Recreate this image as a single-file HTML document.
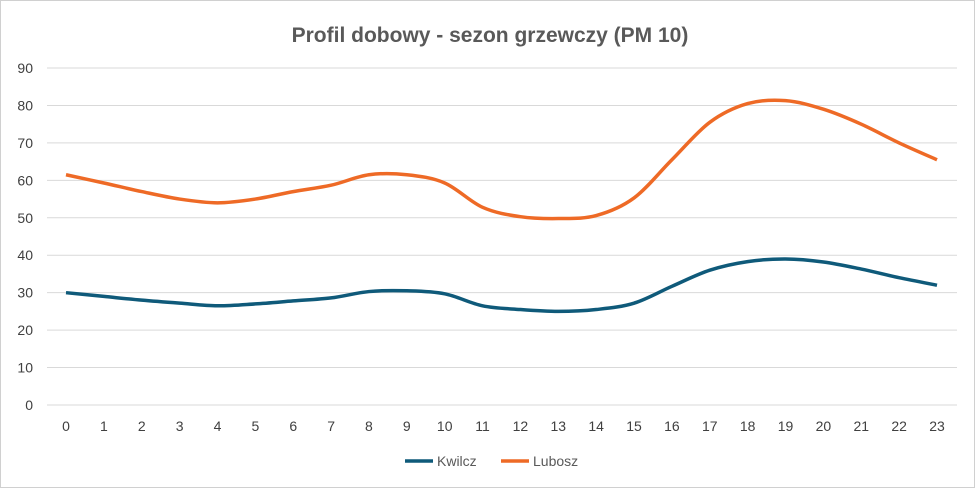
<!DOCTYPE html>
<html><head><meta charset="utf-8"><style>
html,body{margin:0;padding:0;background:#fff;}
body{width:980px;height:493px;overflow:hidden;font-family:"Liberation Sans",sans-serif;}
</style></head><body>
<svg id="c" width="980" height="493" xmlns="http://www.w3.org/2000/svg">
<rect x="0.5" y="0.5" width="974" height="487" fill="#fff" stroke="#d0d0d0"/>
<text x="490" y="42" text-anchor="middle" font-family="Liberation Sans, sans-serif" font-size="21" font-weight="bold" fill="#595959">Profil dobowy - sezon grzewczy (PM 10)</text>
<g id="grid"></g><g id="lab" font-family="Liberation Sans, sans-serif" font-size="14" fill="#404040"></g>
<g id="ser"></g>
<line x1="405" y1="461" x2="433" y2="461" stroke="#0f5a7a" stroke-width="3.5"/>
<text x="437" y="466" font-family="Liberation Sans, sans-serif" font-size="14" fill="#595959">Kwilcz</text>
<line x1="501" y1="461" x2="529" y2="461" stroke="#ee6a26" stroke-width="3.5"/>
<text x="533" y="466" font-family="Liberation Sans, sans-serif" font-size="14" fill="#595959">Lubosz</text>
</svg>
<script>
const ns="http://www.w3.org/2000/svg";
const Y=v=>405-3.744*v, X=i=>66+i*37.87;
let g="",l="";
for(let v=0;v<=90;v+=10){g+=`<line x1="47" x2="957" y1="${Y(v)}" y2="${Y(v)}" stroke="#d9d9d9" stroke-width="1"/>`;l+=`<text x="33" y="${Y(v)+5}" text-anchor="end">${v}</text>`;}
for(let i=0;i<24;i++)l+=`<text x="${X(i)}" y="431" text-anchor="middle">${i}</text>`;
document.getElementById("grid").innerHTML=g;document.getElementById("lab").innerHTML=l;
const K=[30,29,28,27.2,26.5,27,27.8,28.6,30.3,30.5,29.7,26.5,25.5,25,25.5,27.2,31.7,36,38.3,39,38.2,36.3,34,32];
const L=[61.5,59.3,57,55,54,55,57,58.7,61.5,61.5,59.3,52.8,50.3,49.8,50.6,55.3,65.5,75.5,80.5,81.3,79,75,70,65.5];
function path(d){const p=d.map((v,i)=>[X(i),Y(v)]);let s=`M${p[0][0]},${p[0][1]}`;
for(let i=0;i<p.length-1;i++){const a=p[Math.max(i-1,0)],b=p[i],c=p[i+1],e=p[Math.min(i+2,p.length-1)];
const t=6;s+=` C${b[0]+(c[0]-a[0])/t},${b[1]+(c[1]-a[1])/t} ${c[0]-(e[0]-b[0])/t},${c[1]-(e[1]-b[1])/t} ${c[0]},${c[1]}`;}return s;}
document.getElementById("ser").innerHTML=`<path d="${path(K)}" fill="none" stroke="#0f5a7a" stroke-width="3.5" stroke-linejoin="round"/><path d="${path(L)}" fill="none" stroke="#ee6a26" stroke-width="3.5" stroke-linejoin="round"/>`;
</script>
</body></html>
